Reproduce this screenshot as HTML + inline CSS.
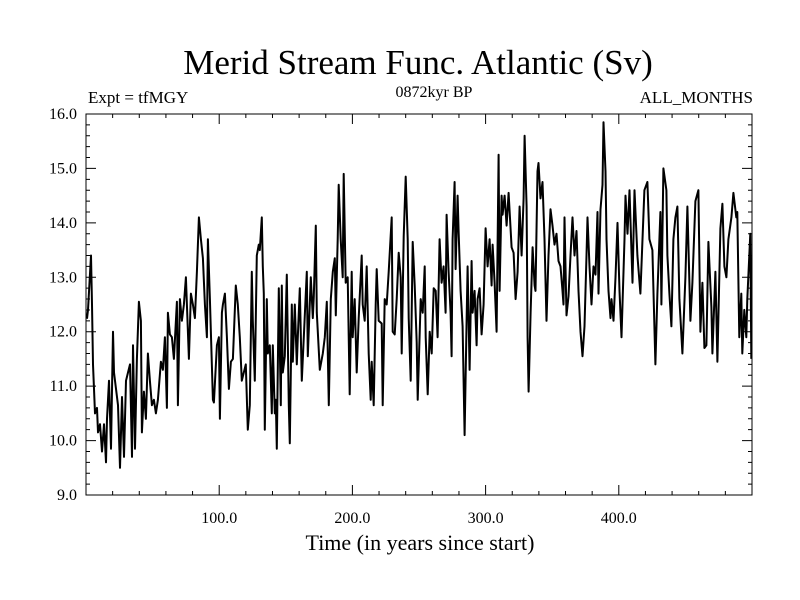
<!DOCTYPE html>
<html><head><meta charset="utf-8"><style>
html,body{margin:0;padding:0;background:#fff;width:800px;height:600px;overflow:hidden}
svg text{font-family:"Liberation Serif",serif;fill:#000}
</style></head><body>
<svg id="chart" width="800" height="600">
<text x="418" y="74" font-size="35" text-anchor="middle">Merid Stream Func. Atlantic (Sv)</text>
<text x="88" y="103" font-size="17">Expt = tfMGY</text>
<text x="434" y="97" font-size="16" text-anchor="middle">0872kyr BP</text>
<text x="753" y="103" font-size="17" text-anchor="end">ALL_MONTHS</text>
<text x="420" y="550" font-size="22" text-anchor="middle">Time (in years since start)</text>
<g id="ticks"></g>
<g id="labels"></g>
<path id="series" fill="none" stroke="#000" stroke-width="2" stroke-linejoin="round"/>
<rect x="86" y="114" width="666" height="381" fill="none" stroke="#000" stroke-width="1"/>
</svg>
<script>
const years = [0.75,1.5,3.75,4.5,5.25,6.75,8.25,9,10.5,12,13.5,15,15.75,17.25,18.75,20.25,21,22.5,24,25.5,27,28.5,30,31.5,33,34.5,35.25,36.75,38.25,39.75,41.25,42,43.5,45,46.5,48,49.5,51,52.5,54,56.25,57.75,59.25,60.75,61.5,63,64.5,66,68.25,69,70.5,72,73.5,75,75.75,77.25,78.75,80.25,81.75,83.25,84.75,86.25,87.75,89.25,90.75,91.5,93,95.25,96,98.25,99.75,100.5,102,102.75,104.25,105.75,107.25,108.75,110.25,112.5,114,115.5,117,118.5,120,121.5,123,124.5,125.25,126.75,128.25,129.75,130.5,132,132.75,133.5,134.25,135.75,136.5,138,139.5,140.25,141.75,142.5,143.25,144.75,146.25,147,147.75,149.25,150.75,152.25,153,154.5,155.25,156.75,158.25,159,160.5,162,163.5,165.75,166.5,168.75,170.25,171,172.5,173.25,175.5,177.75,179.25,180.75,182.25,183.75,185.25,186.75,187.5,189,189.75,191.25,192.75,193.5,195,196.5,198,199.5,200.25,201.75,203.25,204.75,207,207.75,209.25,210.75,212.25,213.75,214.5,216,217.5,218.25,219.75,222,222.75,224.25,225.75,227.25,229.5,230.25,231.75,233.25,234.75,236.25,237,238.5,240,241.5,242.25,243.75,245.25,246.75,248.25,249,251.25,252.75,254.25,255,256.5,258,259.5,261,262.5,264,265.5,267,268.5,270,270.75,272.25,273.75,274.5,275.25,276.75,277.5,279,279.75,281.25,282.75,284.25,285.75,286.5,288,289.5,290.25,291.75,293.25,294,295.5,297,298.5,300,301.5,303,304.5,305.25,306.75,308.25,309.75,310.5,312,312.75,314.25,315.75,317.25,319.5,321,322.5,324,325.5,327,328.5,329.25,330.75,331.5,332.25,333.75,335.25,336.75,337.5,339,339.75,341.25,342.75,344.25,345.75,347.25,348.75,350.25,351.75,353.25,354.75,356.25,357.75,358.5,359.25,360.75,362.25,363.75,365.25,366.75,368.25,369.75,371.25,372.75,374.25,375.75,376.5,378,379.5,381,382.5,384,384.75,386.25,387.75,388.5,390,390.75,392.25,393.75,394.5,396,397.5,399,400.5,402,402.75,404.25,405,406.5,408,410.25,411.75,414,416.25,419.25,421.5,423,425.25,427.5,429,431.25,432,433.5,435.75,436.5,438,439.5,441,442.5,444,445.5,447.75,450,451.5,453.75,455.25,457.5,459.75,461.25,462.75,464.25,465.75,467.25,469.5,470.25,472.5,474,476.25,477.75,479.25,480.75,482.25,484.5,486,488.25,489,490.5,492,492.75,494.25,495.75,496.5,498.75,499.5];
const values = [12.24,12.4,13.4,12.5,11.4,10.5,10.6,10.15,10.3,9.8,10.3,9.6,10.4,11.1,9.85,12.0,11.25,10.95,10.65,9.5,10.8,9.7,11.1,11.25,11.4,9.7,11.75,9.85,11.5,12.55,12.2,10.15,10.9,10.4,11.6,11.1,10.65,10.75,10.5,10.75,11.45,11.3,11.9,10.6,12.35,11.95,11.9,11.5,12.55,10.65,12.6,12.2,12.5,13.0,12.5,11.5,12.7,12.5,12.25,13.1,14.1,13.7,13.35,12.5,11.9,13.7,12.6,10.75,10.7,11.75,11.9,10.4,12.35,12.5,12.7,11.9,10.95,11.45,11.5,12.85,12.5,11.9,11.1,11.25,11.4,10.2,10.65,13.1,12.2,11.1,13.4,13.6,13.5,14.1,13.2,12.7,10.2,12.6,11.6,11.75,10.5,11.75,10.5,10.75,9.85,12.8,10.65,12.85,11.25,11.55,13.05,10.65,9.95,12.5,11.45,12.5,11.4,11.9,12.8,11.1,11.9,13.1,11.55,13.0,12.25,12.65,13.95,12.35,11.3,11.6,11.9,12.55,10.65,12.6,13.1,13.35,12.3,13.7,14.7,13.7,13.0,14.9,12.9,13.0,10.85,13.1,11.9,12.6,11.25,12.25,13.4,12.5,12.2,13.2,11.6,10.75,11.45,10.65,12.5,13.15,12.2,12.15,10.65,12.6,12.5,13.1,14.1,12.0,11.95,12.6,13.45,13.0,11.6,13.75,14.85,13.7,12.25,11.1,13.65,12.85,11.8,10.75,12.6,12.35,13.2,11.9,10.85,12.0,11.6,12.8,12.75,11.9,13.7,12.9,13.2,12.35,14.15,13.1,12.35,11.55,13.7,14.75,13.15,14.5,13.85,12.75,12.1,10.1,12.2,13.2,11.3,13.3,12.35,12.75,11.75,12.6,12.8,11.95,12.5,13.9,13.2,13.7,12.85,13.6,12.9,12.0,15.25,12.75,14.5,14.15,14.5,13.95,14.55,13.55,13.45,12.6,13.1,14.3,13.4,14.45,15.6,14.3,11.9,10.9,12.35,13.55,12.85,12.75,14.95,15.1,14.45,14.75,13.7,12.2,13.4,14.25,13.95,13.6,13.8,13.3,13.2,12.75,12.5,14.1,12.3,12.65,13.4,14.1,13.4,13.85,12.75,12.0,11.55,12.1,13.4,14.1,13.2,12.5,13.2,13.05,14.2,12.7,14.25,14.7,15.85,14.95,13.7,12.75,12.25,12.6,12.2,13.0,14.0,12.75,11.9,12.5,13.7,14.5,13.8,14.6,12.9,14.6,13.4,12.7,14.6,14.75,13.7,13.5,11.4,12.7,14.2,12.5,15.0,14.6,13.4,12.7,12.1,13.7,14.1,14.3,12.6,11.6,13.0,14.3,12.2,12.9,14.4,14.6,12.0,12.9,11.7,11.75,13.65,12.45,11.6,13.1,11.45,13.9,14.35,13.2,13.0,13.7,14.1,14.55,14.1,14.2,11.9,12.7,11.6,12.4,11.9,12.6,13.8,11.5];
const xTickValues = [100,200,300,400];
const xTickLabels = ["100.0","200.0","300.0","400.0"];
const yTickValues = [9,10,11,12,13,14,15,16];
const yTickLabels = ["9.0","10.0","11.0","12.0","13.0","14.0","15.0","16.0"];

const L=86,R=752,T=114,B=495,XMIN=0,XMAX=500,YMIN=9,YMAX=16;
function sx(v){return L+(v-XMIN)/(XMAX-XMIN)*(R-L);}
function sy(v){return B-(v-YMIN)/(YMAX-YMIN)*(B-T);}
const NS="http://www.w3.org/2000/svg";
const tg=document.getElementById('ticks'), lg=document.getElementById('labels');
let d="";
for(let x=20;x<XMAX;x+=20){
  const major=x%100===0, len=major?10:4, px=sx(x);
  d+=`M${px},${B}v${-len}M${px},${T}v${len}`;
}
for(let k=1;k<35;k++){
  const v=YMIN+k*0.2, major=k%5===0, len=major?10:4, py=sy(v);
  d+=`M${L},${py}h${len}M${R},${py}h${-len}`;
}
const tp=document.createElementNS(NS,'path');
tp.setAttribute('d',d);tp.setAttribute('stroke','#000');tp.setAttribute('stroke-width','1');


tg.appendChild(tp);
xTickValues.forEach((v,i)=>{
  const t=document.createElementNS(NS,'text');
  t.setAttribute('x',sx(v));t.setAttribute('y',B+28);t.setAttribute('font-size','16');t.setAttribute('text-anchor','middle');
  t.textContent=xTickLabels[i];
  
  
  lg.appendChild(t);
});
yTickValues.forEach((v,i)=>{
  const t=document.createElementNS(NS,'text');
  t.setAttribute('x',L-9);t.setAttribute('y',sy(v)+5);t.setAttribute('font-size','16');t.setAttribute('text-anchor','end');
  t.textContent=yTickLabels[i];
  
  
  lg.appendChild(t);
});
let p="";
years.forEach((yr,i)=>{p+=(i?"L":"M")+sx(yr).toFixed(1)+","+sy(values[i]).toFixed(1);});
document.getElementById('series').setAttribute('d',p);
</script>
</body></html>
